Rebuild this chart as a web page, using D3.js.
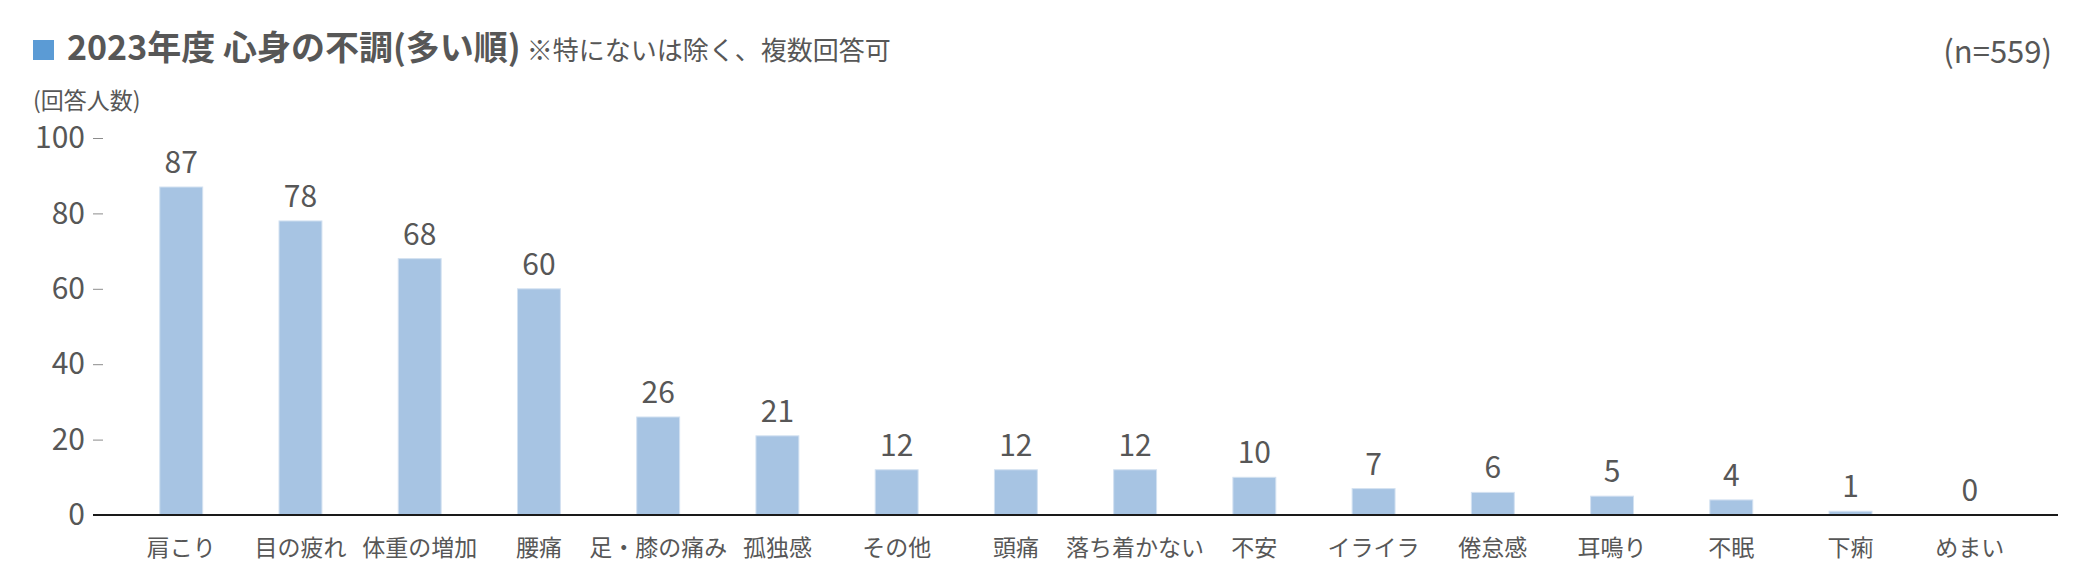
<!DOCTYPE html>
<html>
<head>
<meta charset="utf-8">
<script src="https://cdn.jsdelivr.net/npm/d3@7"></script>
<style>
  body { margin: 0; background: #fff; }
  text { font-family: "Noto Sans CJK JP", "Noto Sans", sans-serif; fill: #575757; }
</style>
</head>
<body>
<div id="chart"></div>
<script>
// data
var categories = ["肩こり", "目の疲れ", "体重の増加", "腰痛", "足・膝の痛み", "孤独感", "その他", "頭痛",
                  "落ち着かない", "不安", "イライラ", "倦怠感", "耳鳴り", "不眠", "下痢", "めまい"]
var counts = [87, 78, 68, 60, 26, 21, 12, 12, 12, 10, 7, 6, 5, 4, 1, 0]
var yTicks = [0, 20, 40, 60, 80, 100]

var titleMain = "2023年度 心身の不調(多い順)"
var titleNote = "※特にないは除く、複数回答可"
var sampleNote = "(n=559)"
var yAxisTitle = "(回答人数)"

var width = 2089,
    height = 588

var svg = d3.select("#chart")
  .append("svg")
    .attr("width", width)
    .attr("height", height)

// scales
var x = d3.scaleBand()
  .domain(categories)
  .range([93, 2058])
  .paddingInner(0.64)
  .paddingOuter(0.56)

var y = d3.scaleLinear()
  .domain([0, 100])
  .range([515, 138])

// title
svg.append("rect")
  .attr("x", 33).attr("y", 40)
  .attr("width", 21).attr("height", 20)
  .style("fill", "#5b9bd5")

var t = svg.append("text")
  .attr("x", 67)
  .attr("y", 60)
t.append("tspan")
  .style("font-size", "34px")
  .style("font-weight", "bold")
  .text(titleMain)
t.append("tspan")
  .attr("dx", 6)
  .style("font-size", "26px")
  .text(titleNote)

svg.append("text")
  .attr("x", 2052)
  .attr("y", 63)
  .attr("text-anchor", "end")
  .style("font-size", "31px")
  .text(sampleNote)

svg.append("text")
  .attr("x", 33)
  .attr("y", 109)
  .style("font-size", "23px")
  .text(yAxisTitle)

// y axis
var yAxis = svg.append("g")
  .attr("transform", "translate(103,0)")
  .call(d3.axisLeft(y).tickValues(yTicks).tickSize(10).tickPadding(8))
yAxis.select(".domain").remove()
yAxis.selectAll(".tick line").style("stroke", "#8c8c8c")
yAxis.selectAll(".tick text")
  .style("font-size", "30px")
  .style("font-family", "'Noto Sans CJK JP', sans-serif")
  .style("fill", "#575757")

// bars
svg.append("g")
  .selectAll("rect")
  .data(counts)
  .enter()
  .append("rect")
    .attr("x", function(d, i) { return x(categories[i]) })
    .attr("y", function(d) { return y(d) })
    .attr("width", x.bandwidth())
    .attr("height", function(d) { return y(0) - y(d) })
    .style("fill", "#a7c4e3")
    .style("stroke", "#d3e1f1")
    .style("stroke-width", 1)

// value labels
svg.append("g")
  .selectAll("text")
  .data(counts)
  .enter()
  .append("text")
    .attr("x", function(d, i) { return x(categories[i]) + x.bandwidth() / 2 })
    .attr("y", function(d) { return y(d) - 14 })
    .attr("text-anchor", "middle")
    .style("font-size", "30px")
    .text(function(d) { return d })

// baseline
svg.append("line")
  .attr("x1", 93).attr("x2", 2058)
  .attr("y1", y(0)).attr("y2", y(0))
  .style("stroke", "#1a1a1a")
  .style("stroke-width", 2)

// category labels
svg.append("g")
  .selectAll("text")
  .data(categories)
  .enter()
  .append("text")
    .attr("x", function(d) { return x(d) + x.bandwidth() / 2 })
    .attr("y", 556)
    .attr("text-anchor", "middle")
    .style("font-size", "23px")
    .text(function(d) { return d })
</script>
</body>
</html>
